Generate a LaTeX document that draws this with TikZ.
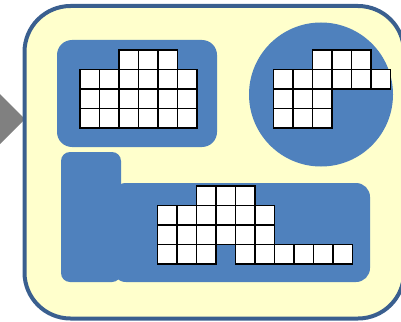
\documentclass[tikz,border=0pt]{standalone}
\usetikzlibrary{calc}
\definecolor{panelfill}{RGB}{255,255,204}
\definecolor{panelborder}{RGB}{58,95,143}
\definecolor{blockblue}{RGB}{79,129,189}
\definecolor{arrowgray}{RGB}{128,128,128}
\tikzset{
  cellbox/.style={fill=white,draw=black,line width=1.4pt},
  blueblock/.style={fill=blockblue,draw=none},
}
% \cellrow{originx}{originy}{row}{firstcol}{lastcol}
\newcommand{\cellrow}[5]{%
  \foreach \c in {#4,...,#5}{%
    \draw[cellbox] ({#1+\c*19.5},{#2+#3*19.5}) rectangle ++(19.5,19.5);
  }%
}
\begin{document}
\begin{tikzpicture}[x=1pt,y=-1pt]
\useasboundingbox (0,0) rectangle (401,321);
\clip (0,0) rectangle (401,321);
% gray arrow tip at left
\fill[arrowgray] (-2,92) -- (25,119) -- (-2,146) -- cycle;
% outer panel
\draw[fill=panelfill,draw=panelborder,line width=4pt,rounded corners=46pt]
  (24.5,6) rectangle (404,318.5);
% top-left block
\fill[blueblock,rounded corners=15pt] (57,40) rectangle (217,147);
% circle block
\fill[blueblock] (321,94.5) circle (72);
% bottom block
\fill[blueblock,rounded corners=14pt] (112,183) rectangle (370,282);
\fill[blueblock,rounded corners=9pt] (61,152) rectangle (121,282);
% grid 1
\cellrow{80}{50}{0}{2}{4}
\cellrow{80}{50}{1}{0}{5}
\cellrow{80}{50}{2}{0}{5}
\cellrow{80}{50}{3}{0}{5}
% grid 2
\cellrow{273.3}{50}{0}{2}{4}
\cellrow{273.3}{50}{1}{0}{5}
\cellrow{273.3}{50}{2}{0}{2}
\cellrow{273.3}{50}{3}{0}{2}
% grid 3
\cellrow{157.3}{186}{0}{2}{4}
\cellrow{157.3}{186}{1}{0}{5}
\cellrow{157.3}{186}{2}{0}{5}
\cellrow{157.3}{186}{3}{0}{2}
\cellrow{157.3}{186}{3}{4}{9}
\end{tikzpicture}
\end{document}
